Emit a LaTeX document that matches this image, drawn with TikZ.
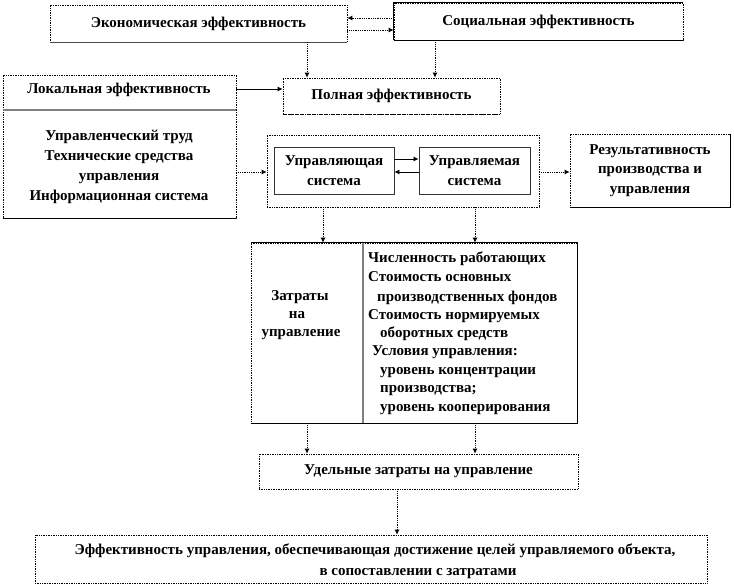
\documentclass[tikz,border=0pt]{standalone}
\usepackage{fontspec}
\setmainfont{Liberation Serif}
\usetikzlibrary{arrows.meta}
\begin{document}
\begin{tikzpicture}[x=1pt,y=-1pt,
  font=\fontsize{15}{19.5}\selectfont\bfseries,
  box/.style={draw, densely dotted, line width=0.7pt, rectangle, inner sep=0pt, align=center},
  solidbox/.style={draw=black!80, line width=0.9pt, rectangle, inner sep=0pt, align=center},
  edgeline/.style={line width=0.9pt},
  grayline/.style={draw=gray, line width=1.6pt},
  conn/.style={densely dotted, line width=0.8pt, -{Latex[length=5pt,width=5pt]}},
  sconn/.style={line width=0.8pt, -{Latex[length=5pt,width=5pt]}},
  txt/.style={inner sep=0pt, anchor=base west},
  ctxt/.style={inner sep=0pt, anchor=base}
]
\useasboundingbox (0,0) rectangle (734,587);

% boxes
\node[box, minimum width=297pt, minimum height=37pt] (eco) at (198.5,23.5) {Экономическая эффективность};
\node[box, minimum width=289pt, minimum height=37pt] (soc) at (538.5,21.5) {Социальная эффективность};
\node[box, minimum width=217pt, minimum height=36pt] (pol) at (391.5,96) {Полная эффективность};
\node[box, minimum width=233pt, minimum height=143pt] (loc) at (119.5,146.5) {};
\node[box, minimum width=272pt, minimum height=72pt] (outer) at (403,171) {};
\node[solidbox, minimum width=120pt, minimum height=47pt] (ctrl) at (334,170.5) {Управляющая\\система};
\node[solidbox, minimum width=111pt, minimum height=47pt] (ctrld) at (474.5,170.5) {Управляемая\\система};
\node[box, minimum width=160pt, minimum height=73pt] (res) at (650,170.5) {Результативность\\производства и\\управления};
\node[box, minimum width=326pt, minimum height=180pt] (cost) at (414,333) {};
\node[box, minimum width=319pt, minimum height=35pt] (ud) at (418.5,471.5) {Удельные затраты на управление};
\node[box, minimum width=672pt, minimum height=48pt] (bot) at (371,559) {};

% solid edges
\draw[edgeline, black!70] (eco.south west) -- (eco.south east);
\draw[edgeline] (soc.south west) -- (soc.north west) -- (soc.north east);
\draw[edgeline] (soc.south west) -- (soc.south east);
\draw[dashed, line width=0.7pt] (pol.south west) -- (pol.south east);
\draw[edgeline] (loc.south west) -- (loc.south east);
\draw[edgeline] (res.north east) -- (res.south east) -- (res.south west);
\draw[edgeline] (cost.south west) -- (cost.south east) -- (cost.north east) -- (cost.north west);

% dividers
\coordinate (locdiv) at (0,110);
\draw[grayline] (loc.west |- locdiv) -- (loc.east |- locdiv);
\coordinate (costdiv) at (363,0);
\draw[grayline] (cost.north -| costdiv) -- (cost.south -| costdiv);

% texts
\node[ctxt] (loct) at (119,93) {Локальная эффективность};
\node[ctxt] (loc1) at (119,140) {Управленческий труд};
\node[ctxt] (loc2) at (119,160) {Технические средства};
\node[ctxt] (loc3) at (119,180) {управления};
\node[ctxt] (loc4) at (119,200) {Информационная система};

\node[ctxt] (cl1) at (300,300) {Затраты};
\node[ctxt] (cl2) at (297,318) {на};
\node[ctxt] (cl3) at (301,336) {управление};

\node[txt] (r1) at (368,262) {Численность работающих};
\node[txt] (r2) at (368,281) {Стоимость основных};
\node[txt] (r3) at (377,301) {производственных фондов};
\node[txt] (r4) at (368,319) {Стоимость нормируемых};
\node[txt] (r5) at (380,337) {оборотных средств};
\node[txt] (r6) at (372,355) {Условия управления:};
\node[txt] (r7) at (380,374) {уровень концентрации};
\node[txt] (r8) at (380,392) {производства;};
\node[txt] (r9) at (380,411) {уровень кооперирования};

\node[ctxt] (b1) at (375,554) {Эффективность управления, обеспечивающая достижение целей управляемого объекта,};
\node[ctxt] (b2) at (418,575) {в сопоставлении с затратами};

% x positions
\coordinate (xa) at (307,0);
\coordinate (xb) at (435,0);
\coordinate (xc) at (323,0);
\coordinate (xd) at (475,0);
\coordinate (xe) at (307,0);
\coordinate (xf) at (397,0);
\coordinate (ya) at (0,18);
\coordinate (yb) at (0,30);
\coordinate (yc) at (0,89);
\coordinate (yd) at (0,172);
\coordinate (ye) at (0,159);

% connectors
\draw[conn] (soc.west |- ya) -- (eco.east |- ya);
\draw[conn] (eco.east |- yb) -- (soc.west |- yb);
\draw[conn] (eco.south -| xa) -- (pol.north -| xa);
\draw[conn] (soc.south -| xb) -- (pol.north -| xb);
\draw[sconn] (loc.east |- yc) -- (pol.west |- yc);
\draw[conn] (loc.east |- yd) -- (outer.west |- yd);
\draw[sconn] (ctrl.east |- ye) -- (ctrld.west |- ye);
\draw[sconn] (ctrld.west |- yd) -- (ctrl.east |- yd);
\draw[conn] (outer.east |- yd) -- (res.west |- yd);
\draw[conn] (outer.south -| xc) -- (cost.north -| xc);
\draw[conn] (outer.south -| xd) -- (cost.north -| xd);
\draw[conn] (cost.south -| xe) -- (ud.north -| xe);
\draw[conn] (cost.south -| xd) -- (ud.north -| xd);
\draw[conn] (ud.south -| xf) -- (bot.north -| xf);
\end{tikzpicture}
\end{document}
